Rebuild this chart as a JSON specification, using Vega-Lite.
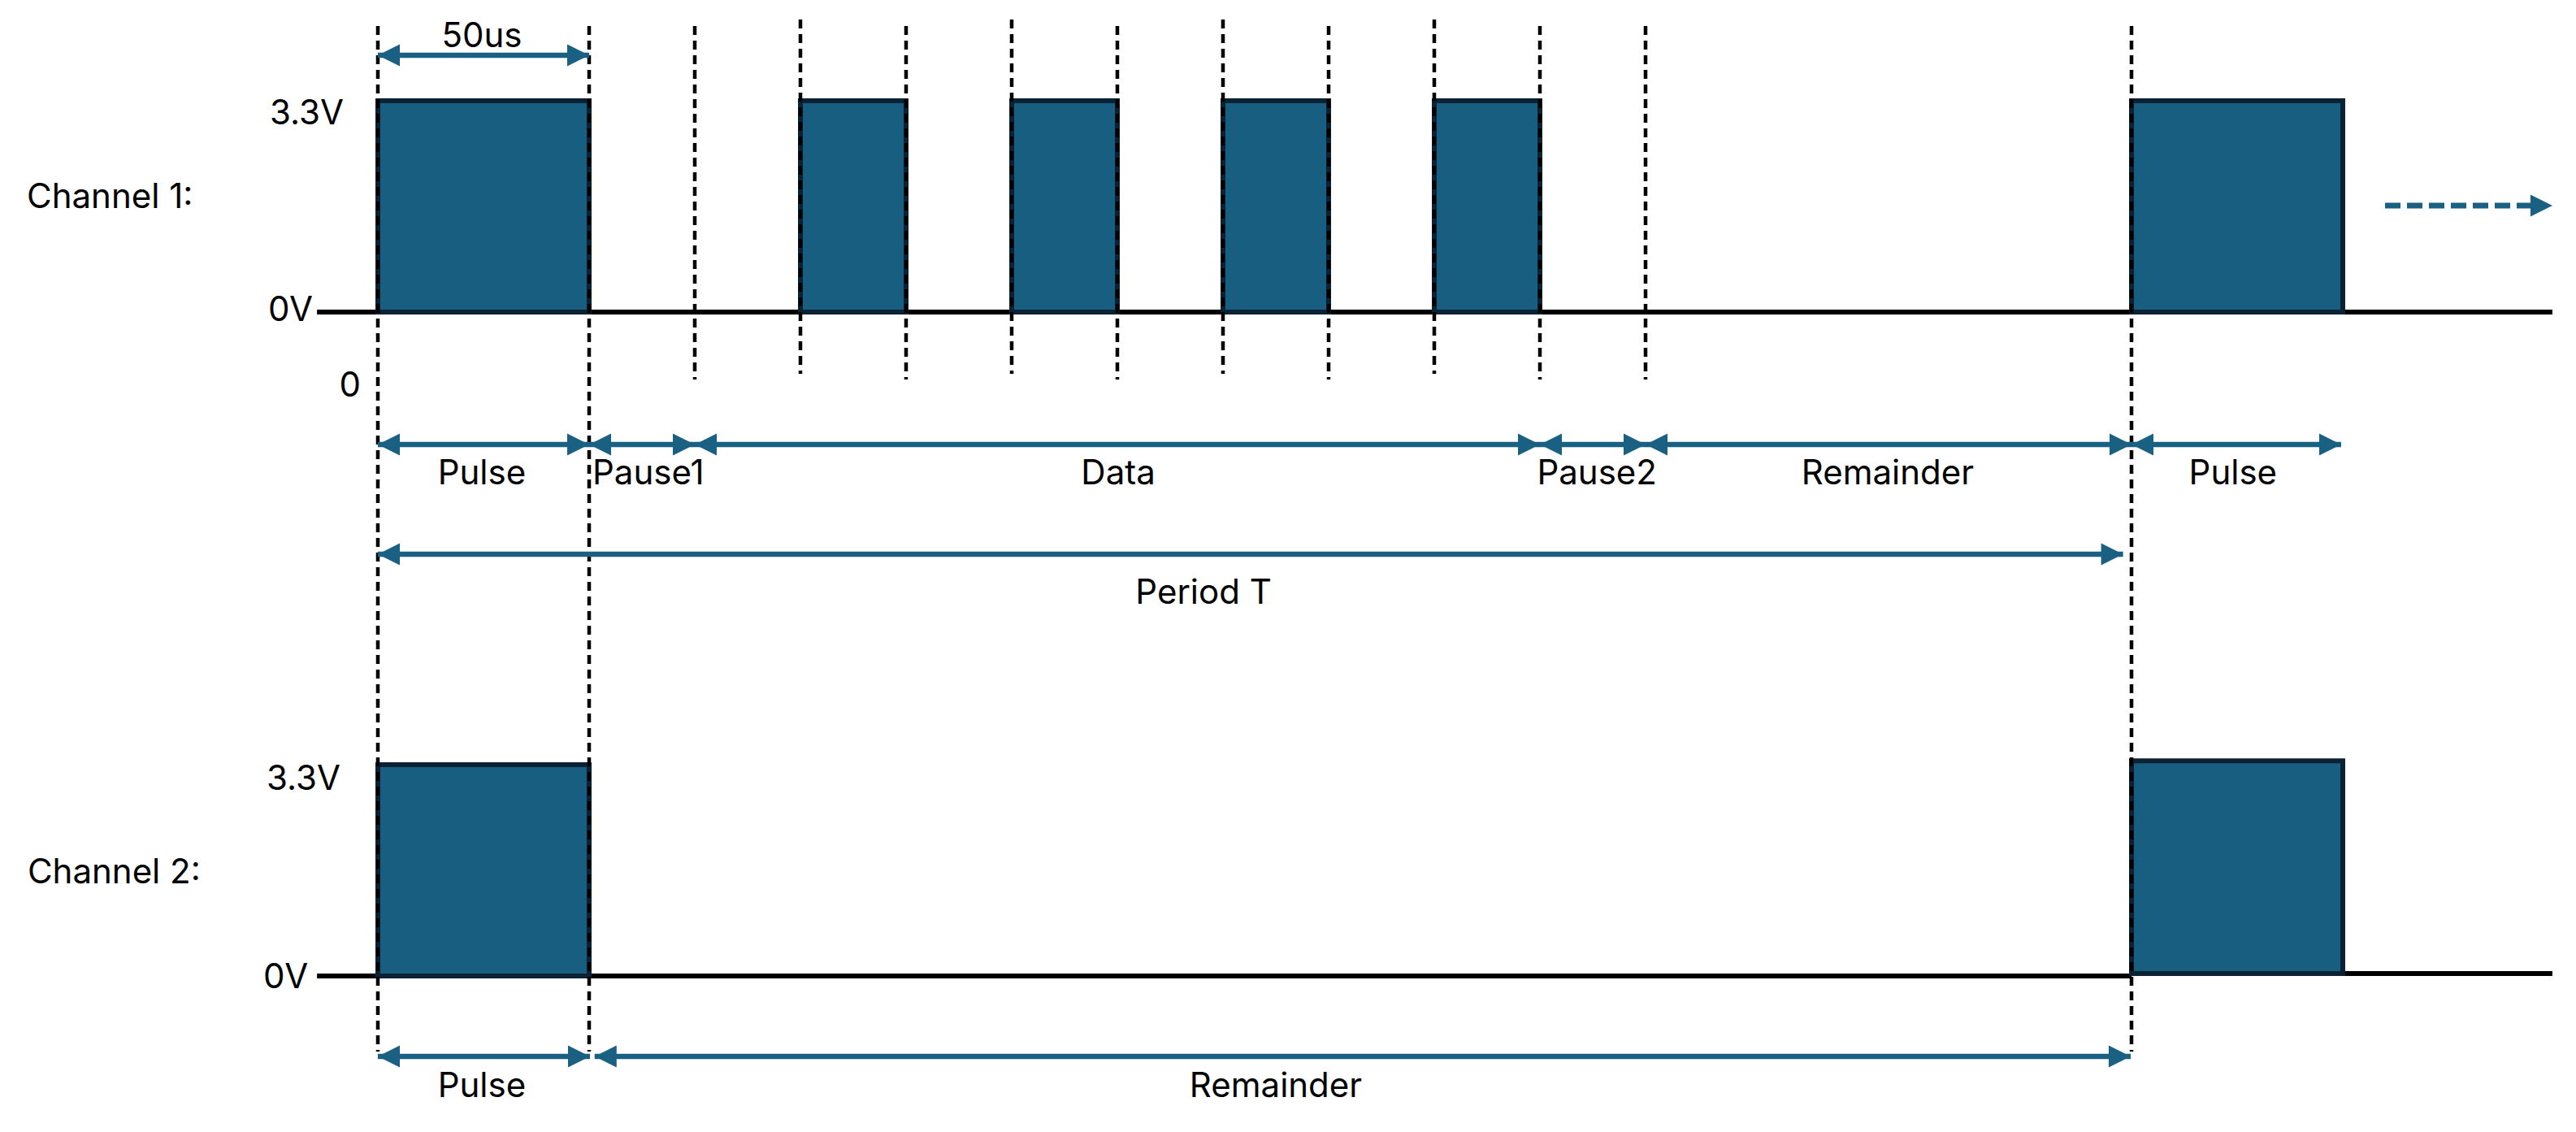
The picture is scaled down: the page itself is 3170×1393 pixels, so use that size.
{
  "$schema": "https://vega.github.io/schema/vega-lite/v6.json",
  "width": 3170,
  "height": 1393,
  "autosize": {"type": "fit", "contains": "padding"},
  "padding": 0,
  "background": "white",
  "config": {"view": {"stroke": null}, "text": {"font": "Inter", "fontSize": 42, "color": "#000000"}},
  "datasets": {
    "baselines": [
      {"channel": "Channel 1", "t0": -14.4, "t1": 514.6, "v": 0},
      {"channel": "Channel 2", "t0": -14.4, "t1": 415, "v": -10.37},
      {"channel": "Channel 2", "t0": 415, "t1": 514.6, "v": -10.33}
    ],
    "pulses": [
      {"channel": "Channel 1", "t0": 0, "t1": 50, "v0": 0, "v1": 3.3},
      {"channel": "Channel 1", "t0": 100, "t1": 125, "v0": 0, "v1": 3.3},
      {"channel": "Channel 1", "t0": 150, "t1": 175, "v0": 0, "v1": 3.3},
      {"channel": "Channel 1", "t0": 200, "t1": 225, "v0": 0, "v1": 3.3},
      {"channel": "Channel 1", "t0": 250, "t1": 275, "v0": 0, "v1": 3.3},
      {"channel": "Channel 1", "t0": 415, "t1": 465, "v0": 0, "v1": 3.3},
      {"channel": "Channel 2", "t0": 0, "t1": 50, "v0": -10.37, "v1": -7.07},
      {"channel": "Channel 2", "t0": 415, "t1": 465, "v0": -10.33, "v1": -7.01}
    ],
    "guides": [
      {"t": 0, "v0": 4.468, "v1": -11.55},
      {"t": 50, "v0": 4.468, "v1": -11.55},
      {"t": 415, "v0": 4.468, "v1": -11.55},
      {"t": 75, "v0": 4.468, "v1": -1.053},
      {"t": 100, "v0": 4.569, "v1": -0.965},
      {"t": 125, "v0": 4.468, "v1": -1.053},
      {"t": 150, "v0": 4.569, "v1": -0.965},
      {"t": 175, "v0": 4.468, "v1": -1.053},
      {"t": 200, "v0": 4.569, "v1": -0.965},
      {"t": 225, "v0": 4.468, "v1": -1.053},
      {"t": 250, "v0": 4.569, "v1": -0.965},
      {"t": 275, "v0": 4.468, "v1": -1.053},
      {"t": 300, "v0": 4.468, "v1": -1.053}
    ],
    "spans": [
      {"name": "50us", "t0": 0, "t1": 50, "v": 4.011},
      {"name": "Pulse", "t0": 0, "t1": 50, "v": -2.069},
      {"name": "Pause1", "t0": 50, "t1": 75, "v": -2.069},
      {"name": "Data", "t0": 75, "t1": 275, "v": -2.069},
      {"name": "Pause2", "t0": 275, "t1": 300, "v": -2.069},
      {"name": "Remainder", "t0": 300, "t1": 415, "v": -2.069},
      {"name": "Pulse", "t0": 415, "t1": 464.6, "v": -2.069},
      {"name": "Period T", "t0": 0, "t1": 413, "v": -3.782},
      {"name": "Pulse", "t0": 0, "t1": 50.2, "v": -11.626},
      {"name": "Remainder", "t0": 51.3, "t1": 414.8, "v": -11.626}
    ],
    "continuation": [
      {"t0": 475, "t1": 510, "v": 1.663}
    ],
    "heads": [
      {"t": 0, "v": 4.011, "dir": "left"},
      {"t": 50, "v": 4.011, "dir": "right"},
      {"t": 0, "v": -2.069, "dir": "left"},
      {"t": 50, "v": -2.069, "dir": "right"},
      {"t": 50, "v": -2.069, "dir": "left"},
      {"t": 75, "v": -2.069, "dir": "right"},
      {"t": 75, "v": -2.069, "dir": "left"},
      {"t": 275, "v": -2.069, "dir": "right"},
      {"t": 275, "v": -2.069, "dir": "left"},
      {"t": 300, "v": -2.069, "dir": "right"},
      {"t": 300, "v": -2.069, "dir": "left"},
      {"t": 415, "v": -2.069, "dir": "right"},
      {"t": 415, "v": -2.069, "dir": "left"},
      {"t": 464.6, "v": -2.069, "dir": "right"},
      {"t": 0, "v": -3.782, "dir": "left"},
      {"t": 413, "v": -3.782, "dir": "right"},
      {"t": 0, "v": -11.626, "dir": "left"},
      {"t": 50.2, "v": -11.626, "dir": "right"},
      {"t": 51.3, "v": -11.626, "dir": "left"},
      {"t": 414.8, "v": -11.626, "dir": "right"},
      {"t": 514.6, "v": 1.663, "dir": "right"}
    ],
    "spanLabels": [
      {"t": 24.6, "v": 4.138, "text": "50us"},
      {"t": 24.6, "v": -2.69, "text": "Pulse"},
      {"t": 64, "v": -2.69, "text": "Pause1"},
      {"t": 175.2, "v": -2.69, "text": "Data"},
      {"t": 288.5, "v": -2.69, "text": "Pause2"},
      {"t": 357.3, "v": -2.69, "text": "Remainder"},
      {"t": 439, "v": -2.69, "text": "Pulse"},
      {"t": 195.4, "v": -4.556, "text": "Period T"},
      {"t": 24.6, "v": -12.26, "text": "Pulse"},
      {"t": 212.5, "v": -12.26, "text": "Remainder"}
    ],
    "levelLabels": [
      {"t": -8.08, "v": 2.932, "text": "3.3V"},
      {"t": -15.38, "v": -0.14, "text": "0V"},
      {"t": -4.04, "v": -1.32, "text": "0"},
      {"t": -8.85, "v": -7.463, "text": "3.3V"},
      {"t": -16.5, "v": -10.56, "text": "0V"}
    ],
    "channelLabels": [
      {"t": -83.08, "v": 1.625, "text": "Channel 1:"},
      {"t": -82.9, "v": -8.92, "text": "Channel 2:"}
    ]
  },
  "layer": [
    {
      "data": {"name": "baselines"},
      "mark": {"type": "rule", "color": "#000000", "strokeWidth": 6},
      "encoding": {
        "x": {"field": "t0", "type": "quantitative", "axis": null, "scale": {"domain": [-89.42, 520.19], "nice": false, "zero": false}},
        "x2": {"field": "t1"},
        "y": {"field": "v", "type": "quantitative", "axis": null, "scale": {"domain": [-12.806, 4.874], "nice": false, "zero": false}}
      }
    },
    {
      "data": {"name": "pulses"},
      "mark": {"type": "rect", "fill": "#175E80", "stroke": "#0A2233", "strokeWidth": 6, "opacity": 1},
      "encoding": {
        "x": {"field": "t0", "type": "quantitative", "axis": null, "scale": {"domain": [-89.42, 520.19], "nice": false, "zero": false}},
        "x2": {"field": "t1"},
        "y": {"field": "v0", "type": "quantitative", "axis": null, "scale": {"domain": [-12.806, 4.874], "nice": false, "zero": false}},
        "y2": {"field": "v1"}
      }
    },
    {
      "data": {"name": "guides"},
      "mark": {"type": "rule", "color": "#000000", "strokeWidth": 4.5, "strokeDash": [11, 7]},
      "encoding": {
        "x": {"field": "t", "type": "quantitative", "axis": null, "scale": {"domain": [-89.42, 520.19], "nice": false, "zero": false}},
        "y": {"field": "v0", "type": "quantitative", "axis": null, "scale": {"domain": [-12.806, 4.874], "nice": false, "zero": false}},
        "y2": {"field": "v1"}
      }
    },
    {
      "data": {"name": "spans"},
      "mark": {"type": "rule", "color": "#1A6082", "strokeWidth": 6.5},
      "encoding": {
        "x": {"field": "t0", "type": "quantitative", "axis": null, "scale": {"domain": [-89.42, 520.19], "nice": false, "zero": false}},
        "x2": {"field": "t1"},
        "y": {"field": "v", "type": "quantitative", "axis": null, "scale": {"domain": [-12.806, 4.874], "nice": false, "zero": false}}
      }
    },
    {
      "data": {"name": "continuation"},
      "mark": {"type": "rule", "color": "#1A6082", "strokeWidth": 7, "strokeDash": [19, 8]},
      "encoding": {
        "x": {"field": "t0", "type": "quantitative", "axis": null, "scale": {"domain": [-89.42, 520.19], "nice": false, "zero": false}},
        "x2": {"field": "t1"},
        "y": {"field": "v", "type": "quantitative", "axis": null, "scale": {"domain": [-12.806, 4.874], "nice": false, "zero": false}}
      }
    },
    {
      "data": {"name": "heads"},
      "mark": {"type": "point", "filled": true, "color": "#1A6082", "opacity": 1, "size": 2916, "strokeWidth": 0},
      "encoding": {
        "x": {"field": "t", "type": "quantitative", "axis": null, "scale": {"domain": [-89.42, 520.19], "nice": false, "zero": false}},
        "y": {"field": "v", "type": "quantitative", "axis": null, "scale": {"domain": [-12.806, 4.874], "nice": false, "zero": false}},
        "shape": {"field": "dir", "type": "nominal", "legend": null, "scale": {"domain": ["left", "right"], "range": ["M0,0L1,-0.5L1,0.5Z", "M0,0L-1,-0.5L-1,0.5Z"]}}
      }
    },
    {
      "data": {"name": "spanLabels"},
      "mark": {"type": "text", "align": "center", "baseline": "alphabetic", "font": "Inter", "fontSize": 42, "color": "#000000"},
      "encoding": {
        "x": {"field": "t", "type": "quantitative", "axis": null, "scale": {"domain": [-89.42, 520.19], "nice": false, "zero": false}},
        "y": {"field": "v", "type": "quantitative", "axis": null, "scale": {"domain": [-12.806, 4.874], "nice": false, "zero": false}},
        "text": {"field": "text", "type": "nominal"}
      }
    },
    {
      "data": {"name": "levelLabels"},
      "mark": {"type": "text", "align": "right", "baseline": "alphabetic", "font": "Inter", "fontSize": 42, "color": "#000000"},
      "encoding": {
        "x": {"field": "t", "type": "quantitative", "axis": null, "scale": {"domain": [-89.42, 520.19], "nice": false, "zero": false}},
        "y": {"field": "v", "type": "quantitative", "axis": null, "scale": {"domain": [-12.806, 4.874], "nice": false, "zero": false}},
        "text": {"field": "text", "type": "nominal"}
      }
    },
    {
      "data": {"name": "channelLabels"},
      "mark": {"type": "text", "align": "left", "baseline": "alphabetic", "font": "Inter", "fontSize": 42, "color": "#000000"},
      "encoding": {
        "x": {"field": "t", "type": "quantitative", "axis": null, "scale": {"domain": [-89.42, 520.19], "nice": false, "zero": false}},
        "y": {"field": "v", "type": "quantitative", "axis": null, "scale": {"domain": [-12.806, 4.874], "nice": false, "zero": false}},
        "text": {"field": "text", "type": "nominal"}
      }
    }
  ]
}
